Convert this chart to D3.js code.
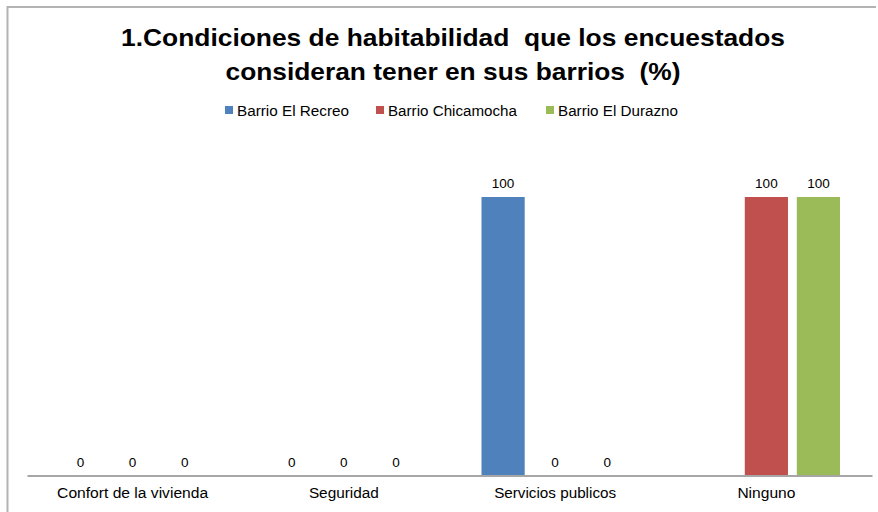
<!DOCTYPE html>
<html>
<head>
<meta charset="utf-8">
<script src="https://cdn.jsdelivr.net/npm/d3@7"></script>
<style>
  html, body { margin: 0; padding: 0; background: #fff; }
  svg { display: block; }
  text { font-family: "Liberation Sans", Arial, sans-serif; fill: #000; white-space: pre; }
</style>
</head>
<body>
<svg id="chart" width="878" height="512"></svg>
<script>
// Categories, series and values (%); null = no value recorded
const categories = ["Confort de la vivienda", "Seguridad", "Servicios publicos", "Ninguno"];
const seriesNames = ["Barrio El Recreo", "Barrio Chicamocha", "Barrio El Durazno"];
const seriesColors = ["#4f81bd", "#c0504d", "#9bbb59"];
const recreo = [0, 0, 100, null];
const chicamocha = [0, 0, 0, 100];
const durazno = [0, 0, 0, 100];
const seriesValues = [recreo, chicamocha, durazno];
const titleLines = ["1.Condiciones de habitabilidad  que los encuestados", "consideran tener en sus barrios  (%)"];

const svg = d3.select("#chart");

// Outer frame (top and left edges)
svg.append("path")
  .attr("d", "M7.5,512 L7.5,7 L876,7")
  .attr("fill", "none")
  .attr("stroke", "#b3b3b3")
  .attr("stroke-width", 2);

// Title
const titleWidths = [664, 455];
svg.append("g").selectAll("text")
  .data(titleLines)
  .join("text")
  .attr("x", 453)
  .attr("y", (d, i) => 46 + i * 34)
  .attr("text-anchor", "middle")
  .attr("font-size", 24)
  .attr("font-weight", "bold")
  .attr("textLength", (d, i) => titleWidths[i])
  .attr("lengthAdjust", "spacingAndGlyphs")
  .text(d => d);

// Legend
const legendX = [225, 376, 546];
const legendTextW = [112, 129, 120];
const legend = svg.append("g").selectAll("g")
  .data(seriesNames)
  .join("g")
  .attr("transform", (d, i) => `translate(${legendX[i]},106)`);
legend.append("rect")
  .attr("width", 8).attr("height", 8)
  .attr("fill", (d, i) => seriesColors[i]);
legend.append("text")
  .attr("x", 12).attr("y", 9.5)
  .attr("font-size", 14)
  .attr("textLength", (d, i) => legendTextW[i])
  .attr("lengthAdjust", "spacingAndGlyphs")
  .text(d => d);

// Scales
const x0 = d3.scaleBand().domain(categories).range([27, 872]).padding(0);
const x1 = d3.scaleBand().domain(seriesNames)
  .range([32, x0.bandwidth() - 32]).paddingInner(0.17).paddingOuter(0);
const y = d3.scaleLinear().domain([0, 100]).range([475.5, 197]);

// Bars and value labels
const groups = svg.append("g").selectAll("g")
  .data(categories)
  .join("g")
  .attr("transform", c => `translate(${x0(c)},0)`);

const cells = groups.selectAll("g")
  .data((c, ci) => seriesNames
    .map((s, si) => ({ s, si, v: seriesValues[si][ci] }))
    .filter(d => d.v !== null))
  .join("g");

cells.append("rect")
  .attr("x", d => x1(d.s))
  .attr("width", x1.bandwidth())
  .attr("y", d => y(d.v))
  .attr("height", d => y(0) - y(d.v))
  .attr("fill", d => seriesColors[d.si]);

cells.append("text")
  .attr("x", d => x1(d.s) + x1.bandwidth() / 2)
  .attr("y", d => y(d.v) - 9)
  .attr("text-anchor", "middle")
  .attr("font-size", 13.5)
  .text(d => d.v);

// Category axis
const axisTextW = { "Confort de la vivienda": 151, "Seguridad": 70, "Servicios publicos": 122, "Ninguno": 58 };
const xAxis = svg.append("g")
  .attr("transform", `translate(0,${y(0)})`)
  .call(d3.axisBottom(x0).tickSize(0).tickPadding(13));
xAxis.select(".domain").attr("stroke", "#a6a6a6").attr("stroke-width", 2);
xAxis.selectAll(".tick text")
  .attr("font-family", "Liberation Sans, Arial, sans-serif")
  .attr("font-size", 14)
  .attr("fill", "#000")
  .attr("textLength", d => axisTextW[d])
  .attr("lengthAdjust", "spacingAndGlyphs");
</script>
</body>
</html>
